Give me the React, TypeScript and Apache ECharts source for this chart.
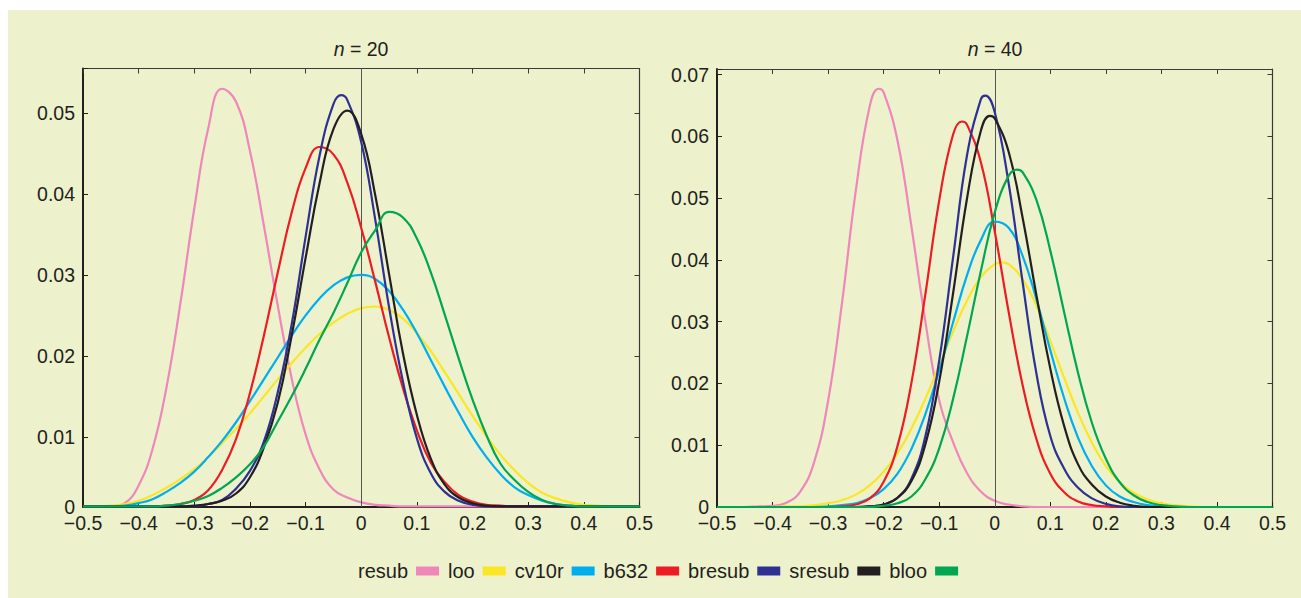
import React, { useEffect, useRef } from "react";
import * as echarts from "echarts";

// x grid (estimation error)
const X = [
  -0.5, -0.475, -0.45, -0.425, -0.4, -0.375, -0.35, -0.325, -0.3, -0.275,
  -0.25, -0.225, -0.2, -0.175, -0.15, -0.125, -0.1, -0.075, -0.05, -0.025,
  0, 0.025, 0.05, 0.075, 0.1, 0.125, 0.15, 0.175, 0.2, 0.225,
  0.25, 0.275, 0.3, 0.325, 0.35, 0.375, 0.4, 0.425, 0.45, 0.475, 0.5,
];

const NAMES = ["resub", "loo", "cv10r", "b632", "bresub", "sresub", "bloo"];
const COLORS = ["#EF87BB", "#FBE625", "#00AEEF", "#ED1C24", "#2E3192", "#231F20", "#00A651"];

// n = 20
const RESUB_20 = [
  0.0014, 0.0014, 0.0014, 0.0018, 0.004, 0.0085, 0.0161, 0.0265, 0.0382, 0.0481,
  0.053, 0.0514, 0.0453, 0.0361, 0.0262, 0.0172, 0.0103, 0.006, 0.0035, 0.0025,
  0.0019, 0.0016, 0.0015, 0.0014, 0.0014, 0.0014, 0.0014, 0.0014, 0.0014, 0.0014,
  0.0014, 0.0014, 0.0014, 0.0014, 0.0014, 0.0014, 0.0014, 0.0014, 0.0014, 0.0014, 0.0014,
];
const LOO_20 = [
  0.0014, 0.0014, 0.0015, 0.0017, 0.0021, 0.0028, 0.0037, 0.0048, 0.006, 0.0075,
  0.0092, 0.011, 0.0129, 0.015, 0.0171, 0.0191, 0.021, 0.0227, 0.0241, 0.0252,
  0.0259, 0.0261, 0.0257, 0.0246, 0.0228, 0.0206, 0.018, 0.0153, 0.0126, 0.0101,
  0.0078, 0.0059, 0.0043, 0.0031, 0.0024, 0.0019, 0.0016, 0.0015, 0.0014, 0.0014, 0.0014,
];
const CV10R_20 = [
  0.0014, 0.0014, 0.0014, 0.0015, 0.0018, 0.0023, 0.0032, 0.0043, 0.0057, 0.0075,
  0.0095, 0.0118, 0.0144, 0.0171, 0.0198, 0.0225, 0.025, 0.0271, 0.0287, 0.0297,
  0.03, 0.0295, 0.028, 0.0257, 0.0228, 0.0195, 0.0162, 0.013, 0.01, 0.0075,
  0.0054, 0.0038, 0.0028, 0.0021, 0.0017, 0.0015, 0.0014, 0.0014, 0.0014, 0.0014, 0.0014,
];
const B632_20 = [
  0.0014, 0.0014, 0.0014, 0.0014, 0.0014, 0.0014, 0.0015, 0.0017, 0.0022, 0.0034,
  0.0059, 0.0097, 0.0154, 0.0225, 0.0303, 0.0377, 0.0432, 0.0458, 0.0449, 0.0414,
  0.0358, 0.0292, 0.0223, 0.016, 0.0108, 0.0068, 0.0044, 0.0028, 0.002, 0.0016,
  0.0015, 0.0014, 0.0014, 0.0014, 0.0014, 0.0014, 0.0014, 0.0014, 0.0014, 0.0014, 0.0014,
];
const BRESUB_20 = [
  0.0014, 0.0014, 0.0014, 0.0014, 0.0014, 0.0014, 0.0014, 0.0014, 0.0014, 0.0017,
  0.0022, 0.0036, 0.0058, 0.0094, 0.0155, 0.0239, 0.0347, 0.0447, 0.0511, 0.0516,
  0.0464, 0.0369, 0.026, 0.0168, 0.0098, 0.0055, 0.0032, 0.0021, 0.0016, 0.0014,
  0.0014, 0.0014, 0.0014, 0.0014, 0.0014, 0.0014, 0.0014, 0.0014, 0.0014, 0.0014, 0.0014,
];
const SRESUB_20 = [
  0.0014, 0.0014, 0.0014, 0.0014, 0.0014, 0.0014, 0.0014, 0.0014, 0.0015, 0.0017,
  0.0021, 0.003, 0.005, 0.0087, 0.0142, 0.0225, 0.0321, 0.0413, 0.048, 0.0503,
  0.0474, 0.0399, 0.0301, 0.0203, 0.0127, 0.0073, 0.0041, 0.0025, 0.0018, 0.0015,
  0.0014, 0.0014, 0.0014, 0.0014, 0.0014, 0.0014, 0.0014, 0.0014, 0.0014, 0.0014, 0.0014,
];
const BLOO_20 = [
  0.0014, 0.0014, 0.0014, 0.0014, 0.0014, 0.0014, 0.0015, 0.0017, 0.0021, 0.0027,
  0.0037, 0.005, 0.0066, 0.0088, 0.0119, 0.015, 0.0184, 0.022, 0.0253, 0.029,
  0.0328, 0.0355, 0.0378, 0.0371, 0.0345, 0.0303, 0.0251, 0.0197, 0.0146, 0.0102,
  0.0067, 0.0047, 0.0032, 0.0022, 0.0017, 0.0015, 0.0014, 0.0014, 0.0014, 0.0014, 0.0014,
];
// curve tops that fall between grid points: [x, value] or null
const PEAKS_20 = [null, null, null, null, [-0.036, 0.0522], null, null];

// n = 40
const RESUB_40 = [
  0, 0, 0, 0.0001, 0.0002, 0.0007, 0.0025, 0.0073, 0.0172, 0.033,
  0.0513, 0.0649, 0.0671, 0.0593, 0.0454, 0.0301, 0.0173, 0.0105, 0.0055, 0.0025,
  0.001, 0.0004, 0.0001, 0, 0, 0, 0, 0, 0, 0,
  0, 0, 0, 0, 0, 0, 0, 0, 0, 0, 0,
];
const LOO_40 = [
  0, 0, 0, 0, 0, 0.0001, 0.0001, 0.0003, 0.0006, 0.0011,
  0.002, 0.0035, 0.0057, 0.0087, 0.0127, 0.0175, 0.0229, 0.0284, 0.0334, 0.0372,
  0.0393, 0.0393, 0.0369, 0.0326, 0.0269, 0.0209, 0.0152, 0.0104, 0.0066, 0.004,
  0.0023, 0.0012, 0.0006, 0.0003, 0.0001, 0, 0, 0, 0, 0, 0,
];
const CV10R_40 = [
  0, 0, 0, 0, 0, 0, 0, 0, 0.0001, 0.0003,
  0.0006, 0.0014, 0.0029, 0.0054, 0.0094, 0.015, 0.0221, 0.0299, 0.0375, 0.0432,
  0.0462, 0.0452, 0.0407, 0.0336, 0.0254, 0.0176, 0.0112, 0.0066, 0.0035, 0.0017,
  0.0008, 0.0003, 0.0001, 0, 0, 0, 0, 0, 0, 0, 0,
];
const B632_40 = [
  0, 0, 0, 0, 0, 0, 0, 0, 0, 0.0001,
  0.0004, 0.0014, 0.0041, 0.0099, 0.0201, 0.0344, 0.0496, 0.0603, 0.0619, 0.0558,
  0.0446, 0.0316, 0.0198, 0.011, 0.0054, 0.0024, 0.0009, 0.0003, 0.0001, 0,
  0, 0, 0, 0, 0, 0, 0, 0, 0, 0, 0,
];
const BRESUB_40 = [
  0, 0, 0, 0, 0, 0, 0, 0, 0, 0,
  0, 0.0001, 0.0004, 0.0015, 0.0046, 0.0114, 0.0237, 0.0404, 0.0569, 0.066,
  0.0639, 0.0524, 0.0365, 0.0216, 0.0115, 0.0062, 0.0031, 0.0014, 0.0005, 0.0001,
  0, 0, 0, 0, 0, 0, 0, 0, 0, 0, 0,
];
const SRESUB_40 = [
  0, 0, 0, 0, 0, 0, 0, 0, 0, 0,
  0, 0.0001, 0.0004, 0.0015, 0.0042, 0.0101, 0.0203, 0.0346, 0.0499, 0.0609,
  0.0629, 0.0575, 0.0469, 0.0343, 0.0224, 0.0131, 0.0069, 0.0036, 0.0017, 0.0007,
  0.0002, 0, 0, 0, 0, 0, 0, 0, 0, 0, 0,
];
const BLOO_40 = [
  0, 0, 0, 0, 0, 0, 0, 0, 0, 0,
  0, 0, 0.0002, 0.0006, 0.0017, 0.0045, 0.0095, 0.0175, 0.0276, 0.0382,
  0.0477, 0.0536, 0.0542, 0.0497, 0.0415, 0.0315, 0.0217, 0.0136, 0.0078, 0.004,
  0.0019, 0.0008, 0.0003, 0.0001, 0, 0, 0, 0, 0, 0, 0,
];
const PEAKS_40 = [
  [-0.209, 0.0677], [0.013, 0.0396], null, [-0.059, 0.0624],
  [-0.017, 0.0666], [-0.009, 0.0633], [0.04, 0.0546],
];

const DATA_20 = [RESUB_20, LOO_20, CV10R_20, B632_20, BRESUB_20, SRESUB_20, BLOO_20];
const DATA_40 = [RESUB_40, LOO_40, CV10R_40, B632_40, BRESUB_40, SRESUB_40, BLOO_40];

const X_TICKS = { min: -0.5, max: 0.5, interval: 0.1 };
const Y_20 = { min: 0.00133, max: 0.0555 };
const Y_40 = { min: 0, max: 0.0709, interval: 0.01 };

const INK = "#231F20";
const BG = "#EDF2CC";
const FONT = '"Liberation Sans", Arial, Helvetica, sans-serif';

const fmtX = (v: number) => {
  const r = Math.round(v * 10) / 10;
  if (r === 0) return "0";
  return (r < 0 ? "\u2212" : "") + Math.abs(r).toFixed(1);
};
const fmtY20 = (v: number) => (v < 0.005 ? "0" : v > 0.0505 ? "" : v.toFixed(2));
const fmtY40 = (v: number) => {
  if (v === 0) return "0";
  return Math.abs(v * 100 - Math.round(v * 100)) > 1e-6 ? "" : v.toFixed(2);
};

const pairs = (ys: number[], peak: number[] | null) => {
  const pts = X.map((x, i) => [x, ys[i]]);
  if (peak) pts.push([peak[0], peak[1]]);
  return pts.sort((a, b) => a[0] - b[0]);
};

function buildOption() {
  const grids = [
    { left: 75, top: 58.5, width: 556.5, height: 438.5 },
    { left: 709, top: 59, width: 555.5, height: 438 },
  ];
  const xAxes: any[] = [];
  const yAxes: any[] = [];
  [0, 1].forEach((g) => {
    xAxes.push({
      type: "value",
      gridIndex: g,
      position: "bottom",
      ...X_TICKS,
      axisLine: { show: true, onZero: false, lineStyle: { color: INK, width: 2 } },
      axisTick: { show: true, inside: true, length: 5, lineStyle: { color: INK, width: 1 } },
      axisLabel: { formatter: fmtX, color: INK, fontSize: 19.5, fontFamily: FONT, margin: 6 },
      splitLine: { show: false },
    });
    xAxes.push({
      type: "value",
      gridIndex: g,
      position: "top",
      ...X_TICKS,
      axisLine: { show: true, onZero: false, lineStyle: { color: "#3a3a3a", width: 1.2 } },
      axisTick: { show: true, inside: true, length: 5, lineStyle: { color: "#3a3a3a", width: 1 } },
      axisLabel: { show: false },
      splitLine: { show: false },
    });
    const yr = g === 0 ? Y_20 : Y_40;
    const fmt = g === 0 ? fmtY20 : fmtY40;
    yAxes.push({
      type: "value",
      gridIndex: g,
      position: "left",
      ...yr,
      splitNumber: 5,
      axisLine: { show: true, onZero: false, lineStyle: { color: INK, width: 2 } },
      axisTick: { show: true, inside: true, length: 5, lineStyle: { color: INK, width: 1 } },
      axisLabel: { formatter: fmt, color: INK, fontSize: 19.5, fontFamily: FONT, margin: 8 },
      splitLine: { show: false },
    });
    yAxes.push({
      type: "value",
      gridIndex: g,
      position: "right",
      ...yr,
      splitNumber: 5,
      axisLine: { show: true, onZero: false, lineStyle: { color: "#3a3a3a", width: 1.2 } },
      axisTick: { show: true, inside: true, length: 5, lineStyle: { color: "#3a3a3a", width: 1 } },
      axisLabel: { show: false },
      splitLine: { show: false },
    });
  });

  const series: any[] = [];
  [DATA_20, DATA_40].forEach((set, g) => {
    const peaks = g === 0 ? PEAKS_20 : PEAKS_40;
    set.forEach((ys, i) => {
      const s: any = {
        name: NAMES[i],
        type: "line",
        xAxisIndex: g * 2,
        yAxisIndex: g * 2,
        data: pairs(ys, peaks[i] as number[] | null),
        symbol: "none",
        showSymbol: false,
        smooth: 0.45,
        clip: true,
        silent: true,
        z: 3 + i,
        lineStyle: { color: COLORS[i], width: 2.2 },
        itemStyle: { color: COLORS[i] },
        emphasis: { disabled: true },
      };
      if (i === 0) {
        s.markLine = {
          silent: true,
          symbol: ["none", "none"],
          label: { show: false },
          lineStyle: { color: "#555555", width: 1, type: "solid" },
          emphasis: { disabled: true },
          data: [{ xAxis: 0 }],
        };
      }
      series.push(s);
    });
  });

  const title = (x: number, n: string) => ({
    type: "text",
    x,
    y: 39,
    style: {
      text: "{i|n} = " + n,
      fill: INK,
      fontSize: 19.5,
      fontFamily: FONT,
      align: "center",
      verticalAlign: "middle",
      rich: {
        i: { fontStyle: "italic", fontSize: 19.5, fontFamily: FONT, fill: INK },
      },
    },
  });

  return {
    animation: false,
    backgroundColor: BG,
    grid: grids,
    xAxis: xAxes,
    yAxis: yAxes,
    series,
    legend: {
      data: NAMES,
      left: 345,
      top: 546,
      align: "right",
      icon: "rect",
      itemWidth: 23,
      itemHeight: 9,
      itemGap: 9,
      selectedMode: false,
      textStyle: { fontSize: 20, color: INK, fontFamily: FONT, padding: [0, 3, 0, 0] },
    },
    graphic: [title(353, "20"), title(987, "40")],
  };
}

export default function App() {
  const ref = useRef<HTMLDivElement>(null);
  useEffect(() => {
    if (!ref.current) return;
    const chart = echarts.init(ref.current, undefined, { renderer: "svg" });
    chart.setOption(buildOption() as any);
    return () => chart.dispose();
  }, []);
  return (
    <div style={{ position: "absolute", left: 8, top: 10, width: 1293, height: 588, background: BG }}>
      <div ref={ref} style={{ width: 1293, height: 588 }} />
    </div>
  );
}
